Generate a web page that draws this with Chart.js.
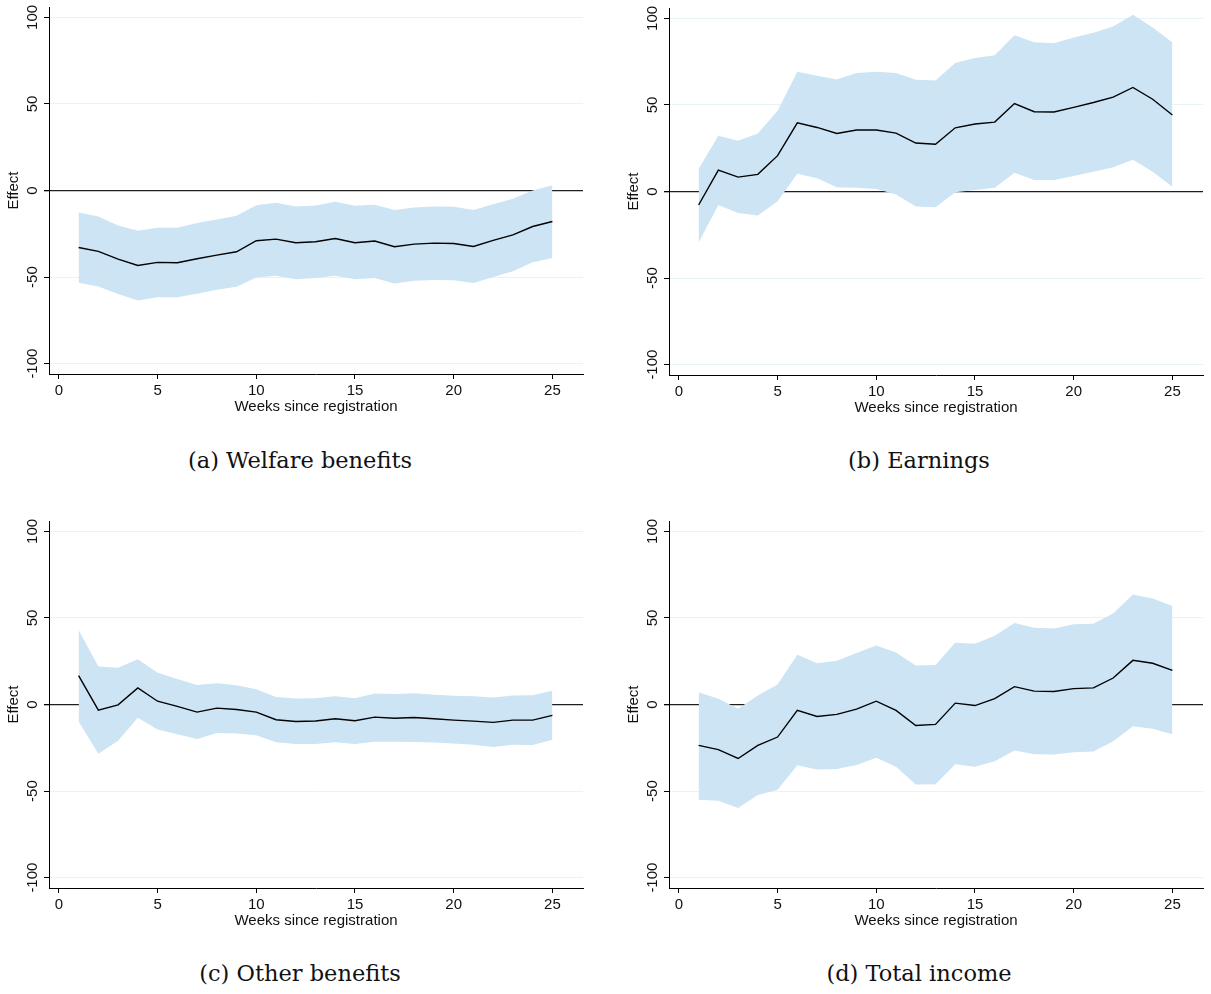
<!DOCTYPE html>
<html>
<head>
<meta charset="utf-8">
<script src="https://cdn.jsdelivr.net/npm/chart.js@4.4.1/dist/chart.umd.min.js"></script>
<style>
body { margin: 0; background: #fff; }
#page { position: relative; width: 1211px; height: 994px; overflow: hidden; }
canvas { position: absolute; }
.cap { position: absolute; width: 600px; text-align: center; font-family: "DejaVu Serif", serif; font-size: 22.5px; line-height: 28px; color: #111; }
</style>
</head>
<body>
<div id="page">
  <canvas id="panel-a" width="600" height="420" style="left:0;top:0"></canvas>
  <canvas id="panel-b" width="600" height="420" style="left:620px;top:1px"></canvas>
  <canvas id="panel-c" width="600" height="420" style="left:0;top:514px"></canvas>
  <canvas id="panel-d" width="600" height="420" style="left:620px;top:514px"></canvas>
  <div class="cap" style="left:0;top:446px">(a) Welfare benefits</div>
  <div class="cap" style="left:619px;top:446px">(b) Earnings</div>
  <div class="cap" style="left:0;top:959px">(c) Other benefits</div>
  <div class="cap" style="left:619px;top:959px">(d) Total income</div>
</div>
<script>
const weeks = [1, 2, 3, 4, 5, 6, 7, 8, 9, 10, 11, 12, 13, 14, 15, 16, 17, 18, 19, 20, 21, 22, 23, 24, 25];
const xTicks = [0, 5, 10, 15, 20, 25];
const yTicks = [-100, -50, 0, 50, 100];

// (a) Welfare benefits
const welfareMean = [-32.9, -35.2, -39.6, -43.3, -41.5, -41.7, -39.4, -37.3, -35.4, -29.0, -28.1, -30.2, -29.6, -27.7, -30.2, -29.2, -32.5, -31.0, -30.4, -30.6, -32.3, -28.8, -25.6, -20.8, -17.9];
const welfareHi = [-12.7, -15.0, -20.2, -23.3, -21.5, -21.5, -18.8, -16.7, -14.6, -8.5, -7.1, -9.2, -8.7, -6.5, -8.8, -8.3, -11.3, -9.8, -9.2, -9.4, -11.2, -7.9, -4.8, 0.0, 3.1];
const welfareLo = [-53.3, -55.4, -59.8, -63.5, -61.7, -61.7, -59.6, -57.3, -55.6, -50.2, -49.2, -51.2, -50.6, -49.2, -51.2, -50.6, -53.7, -52.1, -51.7, -51.9, -53.5, -50.0, -46.7, -41.5, -39.0];

// (b) Earnings
const earningsMean = [-7.8, 12.4, 8.3, 9.9, 20.7, 39.7, 37.0, 33.5, 35.5, 35.5, 33.7, 28.0, 27.3, 36.8, 39.0, 40.1, 50.8, 46.1, 45.9, 48.6, 51.4, 54.5, 60.1, 53.3, 44.2];
const earningsHi = [13.0, 32.2, 29.3, 33.5, 46.7, 69.2, 66.9, 64.7, 68.4, 69.2, 68.4, 64.6, 64.1, 74.2, 77.1, 78.7, 90.3, 86.2, 85.7, 89.0, 91.7, 95.3, 102.1, 94.8, 86.0];
const earningsLo = [-29.5, -7.8, -12.4, -13.8, -5.6, 10.3, 7.6, 2.5, 2.1, 1.4, -1.7, -8.6, -9.1, -0.4, 0.8, 2.1, 10.9, 6.6, 6.6, 8.9, 11.4, 14.0, 18.4, 11.4, 2.7];

// (c) Other benefits
const otherMean = [16.7, -3.3, -0.2, 9.6, 1.9, -1.1, -4.4, -2.1, -2.9, -4.4, -8.8, -9.8, -9.5, -8.2, -9.4, -7.3, -7.9, -7.5, -8.2, -9.0, -9.6, -10.3, -9.0, -9.0, -6.3];
const otherHi = [43.1, 22.0, 21.3, 26.2, 18.4, 14.8, 11.3, 12.3, 11.1, 8.8, 4.4, 3.4, 3.6, 4.8, 3.6, 6.3, 6.1, 6.5, 5.7, 5.0, 4.8, 4.0, 5.2, 5.4, 7.9];
const otherLo = [-9.8, -28.5, -20.9, -7.7, -14.4, -17.2, -19.9, -16.5, -16.7, -17.8, -21.8, -22.8, -22.8, -21.8, -22.8, -21.5, -21.5, -21.6, -22.0, -22.6, -23.2, -24.6, -23.2, -23.4, -20.3];

// (d) Total income
const incomeMean = [-23.6, -26.1, -31.2, -23.6, -18.8, -3.3, -6.9, -5.7, -2.7, 1.9, -3.4, -12.1, -11.5, 0.8, -0.6, 3.4, 10.3, 7.7, 7.5, 9.2, 9.6, 15.3, 25.5, 23.8, 19.7];
const incomeHi = [7.1, 3.3, -2.5, 5.2, 11.5, 28.7, 23.9, 25.3, 29.7, 34.1, 30.1, 22.6, 22.8, 35.6, 35.1, 39.7, 47.1, 44.4, 43.9, 46.4, 46.6, 52.5, 63.6, 61.3, 56.9];
const incomeLo = [-55.0, -55.6, -59.8, -52.3, -49.2, -35.1, -37.5, -37.2, -34.9, -30.7, -36.0, -46.2, -46.0, -34.5, -36.0, -32.8, -26.6, -28.7, -28.9, -27.6, -27.2, -21.3, -12.6, -14.0, -17.2];

const sansFont = '"Liberation Sans", Arial, sans-serif';
const bandColor = 'rgb(204, 228, 243)';
const textColor = '#111';

// y tick labels are drawn rotated, reading bottom to top
const rotatedYLabels = {
    id: 'rotatedYLabels',
    afterDraw(chart) {
        const scale = chart.scales.y;
        const ctx = chart.ctx;
        ctx.save();
        ctx.font = '15px ' + sansFont;
        ctx.fillStyle = textColor;
        ctx.textAlign = 'center';
        ctx.textBaseline = 'middle';
        scale.ticks.forEach(t => {
            ctx.save();
            ctx.translate(scale.right - 15.7, scale.getPixelForValue(t.value));
            ctx.rotate(-Math.PI / 2);
            ctx.fillText(String(t.value), 0, 0);
            ctx.restore();
        });
        ctx.restore();
    }
};

function makePanel(canvasId, lower, upper, mean) {
    const toPoints = arr => weeks.map((w, i) => ({ x: w, y: arr[i] }));
    return new Chart(document.getElementById(canvasId), {
        type: 'line',
        data: {
            // first dataset is drawn last, so the point estimate sits on top of the band
            datasets: [
                { data: toPoints(mean), borderColor: '#000', borderWidth: 1.4, pointRadius: 0, fill: false, tension: 0 },
                { data: toPoints(lower), borderWidth: 0, pointRadius: 0, fill: false },
                { data: toPoints(upper), borderWidth: 0, pointRadius: 0, fill: '-1', backgroundColor: bandColor }
            ]
        },
        options: {
            responsive: false,
            animation: false,
            layout: { padding: { left: 0, right: 17, top: 7, bottom: 2 } },
            plugins: { legend: { display: false }, tooltip: { enabled: false } },
            scales: {
                x: {
                    type: 'linear',
                    min: -0.5,
                    max: 26.55,
                    afterBuildTicks: s => { s.ticks = xTicks.map(v => ({ value: v })); },
                    afterFit: s => { s.height = 44; },
                    grid: { drawOnChartArea: false, tickLength: 5, tickColor: '#000' },
                    border: { color: '#000', width: 1 },
                    ticks: { font: { family: sansFont, size: 15 }, color: textColor, padding: 3, maxRotation: 0 },
                    title: { display: true, text: 'Weeks since registration', color: textColor,
                             font: { family: sansFont, size: 15 }, padding: { top: 0, bottom: 2 } }
                },
                y: {
                    min: -106,
                    max: 106,
                    afterBuildTicks: s => { s.ticks = yTicks.map(v => ({ value: v })); },
                    afterFit: s => { s.width = 49; },
                    grid: {
                        color: c => (c.tick && c.tick.value === 0) ? '#1e1e1e' : '#e9f2f5',
                        lineWidth: c => (c.tick && c.tick.value === 0) ? 1.3 : 1,
                        tickColor: '#000',
                        tickLength: 5
                    },
                    border: { color: '#000', width: 1 },
                    ticks: { display: false },
                    title: { display: true, text: 'Effect', color: textColor,
                             font: { family: sansFont, size: 15 }, padding: { top: 5, bottom: 0 } }
                }
            }
        },
        plugins: [rotatedYLabels]
    });
}

makePanel('panel-a', welfareLo, welfareHi, welfareMean);
makePanel('panel-b', earningsLo, earningsHi, earningsMean);
makePanel('panel-c', otherLo, otherHi, otherMean);
makePanel('panel-d', incomeLo, incomeHi, incomeMean);
</script>
</body>
</html>
